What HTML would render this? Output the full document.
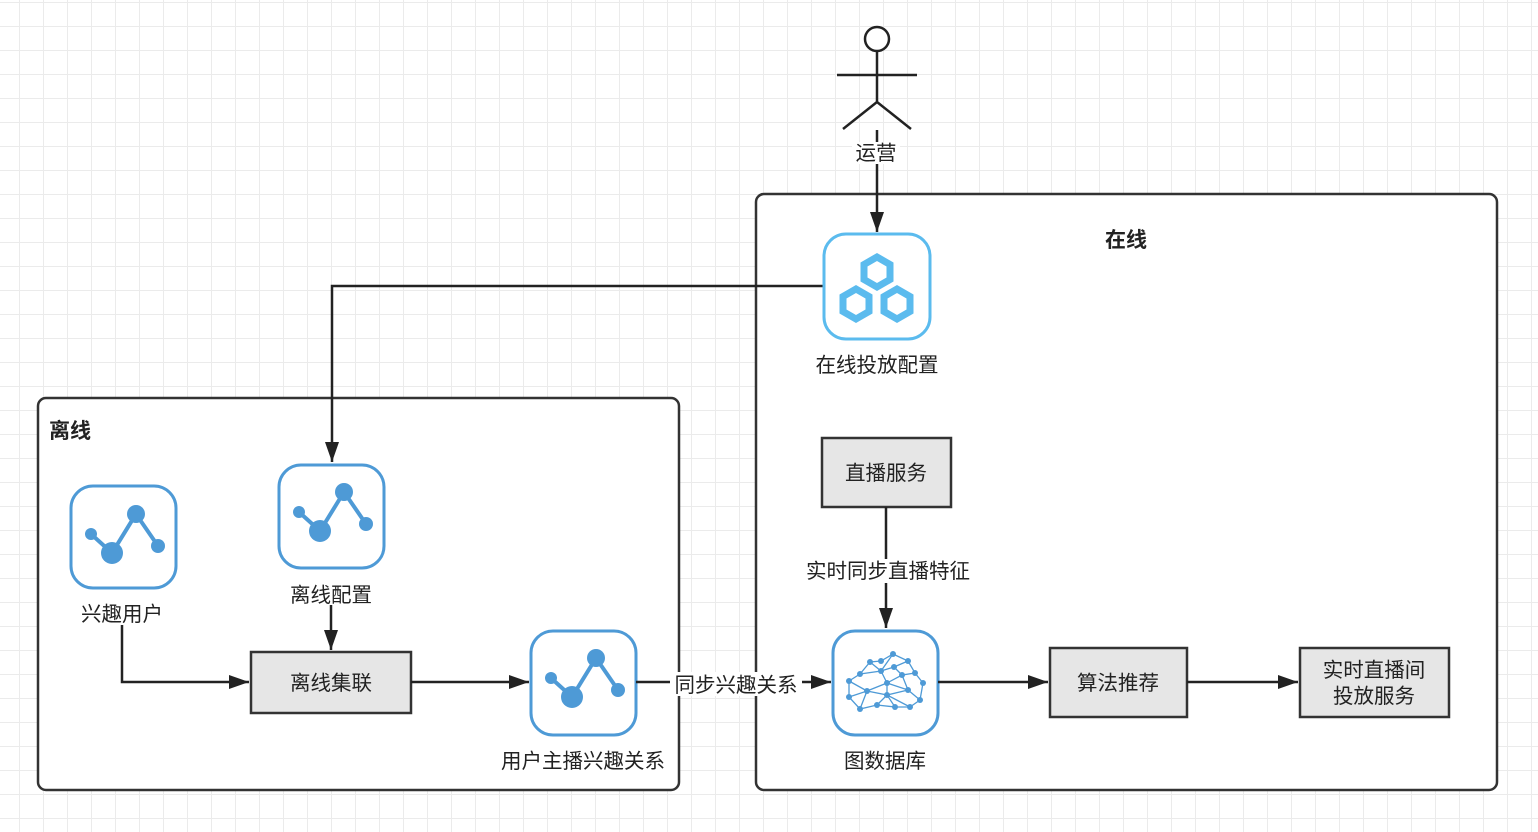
<!DOCTYPE html>
<html><head><meta charset="utf-8"><style>
html,body{margin:0;padding:0;background:#fff}
svg{display:block}
text{font-family:"Liberation Sans","Noto Sans CJK SC",sans-serif;fill:#222}
</style></head><body>
<svg width="1538" height="832" viewBox="0 0 1538 832" xmlns="http://www.w3.org/2000/svg">
<defs>
<pattern id="g" x="19" y="2" width="24" height="24" patternUnits="userSpaceOnUse">
<path d="M0 0H24M0 0V24" stroke="#ebebeb" stroke-width="2" fill="none"/>
</pattern>
<marker id="A" viewBox="0 0 10 10" refX="10" refY="5" markerWidth="20" markerHeight="14" orient="auto" markerUnits="userSpaceOnUse" preserveAspectRatio="none">
<path d="M0 0L10 5L0 10z" fill="#222"/></marker>
<g id="tri">
<path d="M-35 -22 L-14 -3 L10 -42 L32 -10" stroke="#4e9ad6" stroke-width="4" fill="none"/>
<circle cx="-35" cy="-22" r="6" fill="#4e9ad6"/>
<circle cx="-14" cy="-3" r="11" fill="#4e9ad6"/>
<circle cx="10" cy="-42" r="9" fill="#4e9ad6"/>
<circle cx="32" cy="-10" r="7" fill="#4e9ad6"/>
</g>
</defs>
<rect width="1538" height="832" fill="url(#g)"/>

<rect x="756" y="194" width="741" height="596" rx="8" fill="#fff" stroke="#333" stroke-width="2.5"/>
<rect x="38" y="398" width="641" height="392" rx="8" fill="#fff" stroke="#333" stroke-width="2.5"/>
<text x="1126" y="247" font-size="21" font-weight="bold" text-anchor="middle">在线</text>
<text x="70" y="438" font-size="21" font-weight="bold" text-anchor="middle">离线</text>

<g stroke="#222" stroke-width="2.5" fill="none">
<circle cx="877" cy="39" r="12" fill="#fff"/>
<path d="M877 51V102M837 75H917M843 129L877 102L911 129"/>
</g>
<line x1="877" y1="130" x2="877" y2="232" stroke="#222" stroke-width="2.5" marker-end="url(#A)"/>
<rect x="852" y="142" width="48" height="22" fill="#fff"/>
<text x="876" y="160" font-size="20.5" text-anchor="middle">运营</text>

<path d="M823 286H332V462" stroke="#222" stroke-width="2.5" fill="none" marker-end="url(#A)"/>

<rect x="824" y="234" width="106" height="105" rx="22" fill="#fff" stroke="#5bbbee" stroke-width="3"/>
<g fill="none" stroke="#5bbbee" stroke-width="7">
<polygon points="877,257 890,264.5 890,279.5 877,287 864,279.5 864,264.5"/>
<polygon points="856,289 869,296.5 869,311.5 856,319 843,311.5 843,296.5"/>
<polygon points="897,289 910,296.5 910,311.5 897,319 884,311.5 884,296.5"/>
</g>
<text x="877" y="372" font-size="20.5" text-anchor="middle">在线投放配置</text>

<rect x="71" y="486" width="105" height="102" rx="22" fill="#fff" stroke="#4e9ad6" stroke-width="3"/>
<use href="#tri" x="126" y="556"/>
<rect x="279" y="465" width="105" height="103" rx="22" fill="#fff" stroke="#4e9ad6" stroke-width="3"/>
<use href="#tri" x="334" y="534"/>
<rect x="531" y="631" width="105" height="104" rx="22" fill="#fff" stroke="#4e9ad6" stroke-width="3"/>
<use href="#tri" x="586" y="700"/>

<rect x="833" y="631" width="105" height="104" rx="22" fill="#fff" stroke="#4e9ad6" stroke-width="3"/>
<g stroke="#4e9ad6" stroke-width="1.3" fill="none">
<path d="M849 681L860 674L870 662L881 661L893 654L908 661L915 673L923 683L920 700L910 707L895 707L877 705L860 709L849 697Z"/>
<path d="M860 674L881 671L893 654M870 662L881 671L894 667L908 661M894 667L902 675L915 673M881 671L887 683L902 675L908 690L920 700M849 681L867 691L887 683L908 690M849 697L867 691L860 709M867 691L887 695L895 707M887 683L887 695L908 690M877 705L887 695L910 707"/>
</g>
<g fill="#4e9ad6">
<circle cx="849" cy="681" r="3"/><circle cx="860" cy="674" r="3"/><circle cx="870" cy="662" r="3"/><circle cx="881" cy="661" r="3"/><circle cx="893" cy="654" r="3"/><circle cx="908" cy="661" r="3"/><circle cx="915" cy="673" r="3"/><circle cx="923" cy="683" r="3"/><circle cx="920" cy="700" r="3"/><circle cx="910" cy="707" r="3"/><circle cx="895" cy="707" r="3"/><circle cx="877" cy="705" r="3"/><circle cx="860" cy="709" r="3"/><circle cx="849" cy="697" r="3"/><circle cx="881" cy="671" r="3"/><circle cx="894" cy="667" r="3"/><circle cx="902" cy="675" r="3"/><circle cx="887" cy="683" r="3"/><circle cx="908" cy="690" r="3"/><circle cx="867" cy="691" r="3"/><circle cx="887" cy="695" r="3"/>
</g>

<text x="122" y="621" font-size="20.5" text-anchor="middle">兴趣用户</text>
<text x="331" y="602" font-size="20.5" text-anchor="middle">离线配置</text>
<text x="583" y="768" font-size="20.5" text-anchor="middle">用户主播兴趣关系</text>
<text x="885" y="768" font-size="20.5" text-anchor="middle">图数据库</text>

<g fill="#e6e6e6" stroke="#333" stroke-width="2.5">
<rect x="251" y="652" width="160" height="61"/>
<rect x="822" y="438" width="129" height="69"/>
<rect x="1050" y="648" width="137" height="69"/>
<rect x="1300" y="648" width="149" height="69"/>
</g>
<text x="331" y="690" font-size="20.5" text-anchor="middle">离线集联</text>
<text x="886" y="480" font-size="20.5" text-anchor="middle">直播服务</text>
<text x="1118" y="690" font-size="20.5" text-anchor="middle">算法推荐</text>
<text x="1374" y="677" font-size="20.5" text-anchor="middle">实时直播间</text>
<text x="1374" y="703" font-size="20.5" text-anchor="middle">投放服务</text>

<g stroke="#222" stroke-width="2.5" fill="none">
<path d="M122 625V682H249" marker-end="url(#A)"/>
<path d="M331 605V650" marker-end="url(#A)"/>
<path d="M411 682H529" marker-end="url(#A)"/>
<path d="M636 682H831" marker-end="url(#A)"/>
<path d="M886 507V628" marker-end="url(#A)"/>
<path d="M938 682H1048" marker-end="url(#A)"/>
<path d="M1187 682H1298" marker-end="url(#A)"/>
</g>
<rect x="670" y="672" width="132" height="24" fill="#fff"/>
<text x="736" y="692" font-size="20.5" text-anchor="middle">同步兴趣关系</text>
<rect x="802" y="559" width="172" height="24" fill="#fff"/>
<text x="888" y="578" font-size="20.5" text-anchor="middle">实时同步直播特征</text>
</svg>
</body></html>
